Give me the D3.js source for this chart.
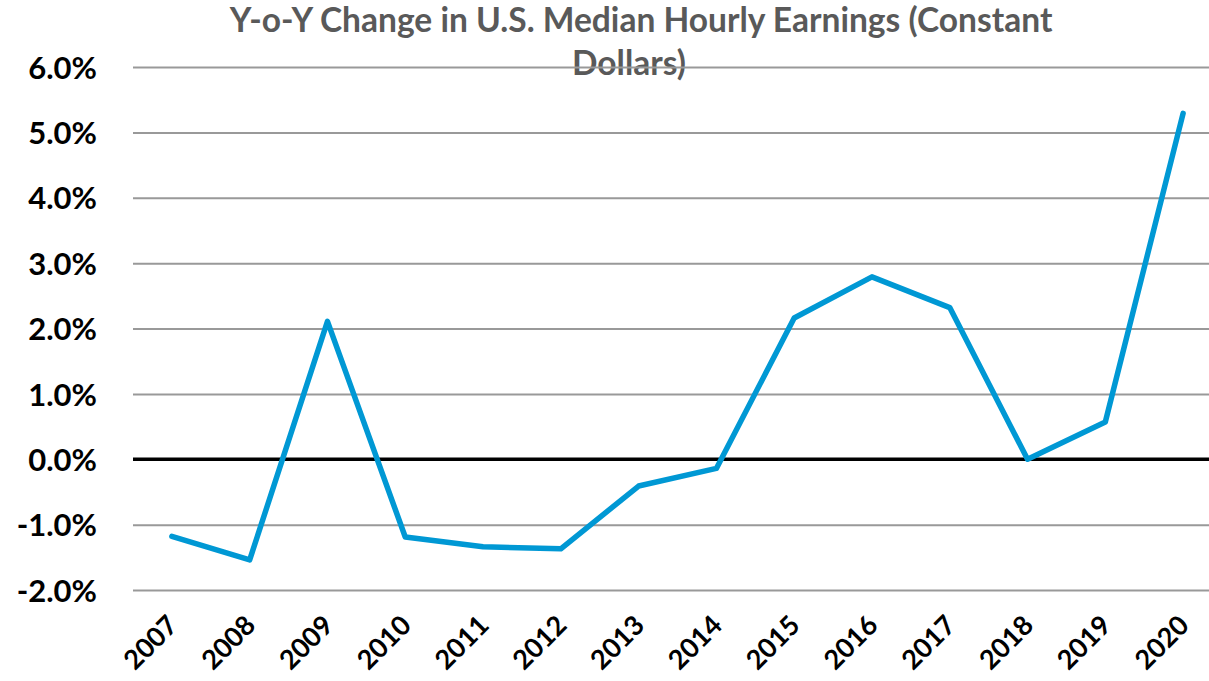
<!DOCTYPE html>
<html>
<head>
<meta charset="utf-8">
<script src="https://cdn.jsdelivr.net/npm/d3@7"></script>
<style>
  body { margin: 0; background: #fff; }
  svg { display: block; }
  text { font-family: Lato, 'Open Sans', sans-serif; font-weight: bold; }
</style>
</head>
<body>
<div id="vis"></div>
<script>
// values
const years = ['2007', '2008', '2009', '2010', '2011', '2012', '2013', '2014',
               '2015', '2016', '2017', '2018', '2019', '2020']
const changes = [-0.0118, -0.0154, 0.0211, -0.0119, -0.0134, -0.0137, -0.0041, -0.0014,
                 0.0216, 0.0279, 0.0232, 0.0000, 0.0057, 0.0529]
const yTicks = [-0.02, -0.01, 0, 0.01, 0.02, 0.03, 0.04, 0.05, 0.06]
const titleLines = ['Y-o-Y Change in U.S. Median Hourly Earnings (Constant', 'Dollars)']

;(function() {
  const svg_width = 1209,
        svg_height = 681,
        svg = d3.select('#vis').append('svg')

  svg.attr('width', svg_width)
    .attr('height', svg_height)

  const plot = { left: 133, right: 1222, top: 67, bottom: 590 }

  const x = d3.scalePoint()
    .domain(years)
    .range([plot.left, plot.right])
    .padding(0.5)

  const y = d3.scaleLinear()
    .domain([-0.02, 0.06])
    .range([plot.bottom, plot.top])

  // title (drawn first, gridline runs over its second line like the original)
  const title = svg.append('g').attr('class', 'title')
  const line1 = title.append('text')
    .attr('x', 641)
    .attr('y', 32)
    .attr('text-anchor', 'middle')
    .attr('fill', '#595959')
    .style('font-size', '100px')
    .text(titleLines[0])
  // fit the font to the width of the original title line
  const fs = 100 * 823 / line1.node().getComputedTextLength()
  line1.style('font-size', fs + 'px')
  title.append('text')
    .attr('x', 629)
    .attr('y', 75)
    .attr('text-anchor', 'middle')
    .attr('fill', '#595959')
    .style('font-size', fs + 'px')
    .text(titleLines[1])

  // y axis + gridlines (plain hyphen for the minus, as in the original)
  const pct = d3.format('.1%')
  const yAxis = svg.append('g')
    .attr('transform', `translate(${plot.left},0)`)
    .call(d3.axisLeft(y)
      .tickValues(yTicks)
      .tickFormat(d => pct(d).replace('\u2212', '-'))
      .tickSize(-(plot.right - plot.left))
      .tickPadding(36))

  yAxis.select('.domain').remove()
  yAxis.selectAll('.tick line')
    .attr('stroke', '#999')
    .attr('stroke-width', 2)
  yAxis.selectAll('.tick text')
    .attr('fill', '#000')
    .attr('dy', '0.36em')
    .style('font-size', '31px')

  // zero line
  svg.append('line')
    .attr('x1', plot.left)
    .attr('x2', plot.right)
    .attr('y1', y(0))
    .attr('y2', y(0))
    .attr('stroke', '#000')
    .attr('stroke-width', 3.5)

  // x axis labels, rotated
  const xAxis = svg.append('g')
    .attr('transform', `translate(0,${plot.bottom})`)
    .call(d3.axisBottom(x).tickSize(0))

  xAxis.select('.domain').remove()
  xAxis.selectAll('.tick text')
    .attr('x', 0)
    .attr('y', 0)
    .attr('dy', 0)
    .attr('text-anchor', 'end')
    .attr('fill', '#000')
    .attr('transform', 'translate(7,37) rotate(-45)')
    .style('font-size', '27px')

  // the series
  const line = d3.line()
    .x((d, i) => x(years[i]))
    .y(d => y(d))

  svg.append('path')
    .datum(changes)
    .attr('d', line)
    .attr('fill', 'none')
    .attr('stroke', '#0098d4')
    .attr('stroke-width', 5.5)
    .attr('stroke-linejoin', 'round')
    .attr('stroke-linecap', 'round')
}())
</script>
</body>
</html>
